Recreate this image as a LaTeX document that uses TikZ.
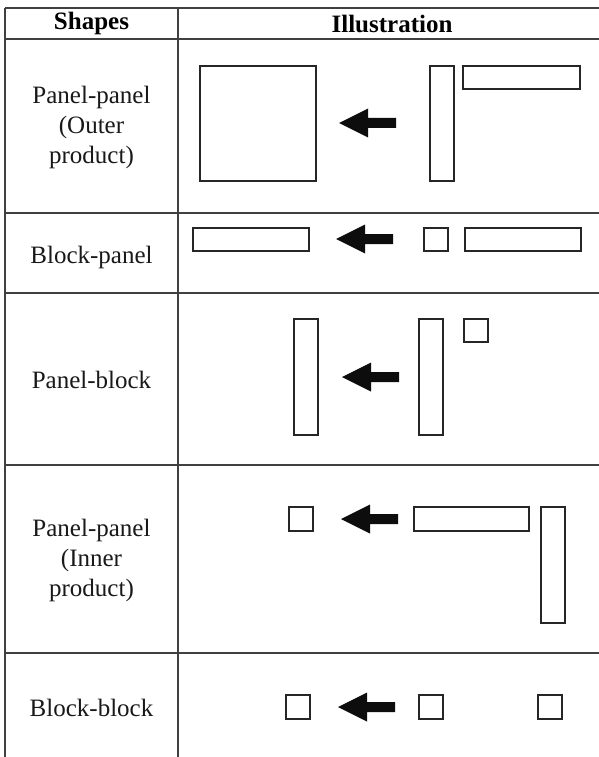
\documentclass[tikz,border=0pt]{standalone}
\usepackage{fontspec}
\setmainfont{Liberation Serif}
\begin{document}
\begin{tikzpicture}[x=1pt,y=-1pt,
  grid/.style={line width=1.4pt,draw=black!75},
  blk/.style={draw=black!85,line width=1.6pt,inner sep=0pt,outer sep=0pt,rectangle,anchor=north west},
  lbl/.style={font=\fontsize{25}{30}\selectfont,align=center,text=black!90},
  hdr/.style={font=\fontsize{25}{30}\selectfont\bfseries,text=black},
  larrow/.pic={\fill[black!95] (0,0) -- (29,-14.5) -- (29,-5) -- (57,-5) -- (57,5) -- (29,5) -- (29,14.5) -- cycle;}
]
\useasboundingbox (0,0) rectangle (599,757);
\fill[white] (0,0) rectangle (599,757);

% table rules
\draw[grid] (5,8) -- (5,757);
\draw[grid] (178,8) -- (178,757);
\foreach \yy in {8,39,213,293,465,653}
  \draw[grid] (5,\yy) -- (599,\yy);

% header
\node[hdr] (hshapes) at (91.5,23.5) {Shapes};
\node[hdr] (hillus) at (392,23.5) {Illustration};

% row labels
\node[lbl] (l1) at (91.5,127) {Panel-panel\\(Outer\\product)};
\node[lbl] (l2) at (91.5,257) {Block-panel};
\node[lbl] (l3) at (91.5,380) {Panel-block};
\node[lbl] (l4) at (91.5,560) {Panel-panel\\(Inner\\product)};
\node[lbl] (l5) at (91.5,708) {Block-block};

% row 1: outer product
\node[blk,minimum width=116pt,minimum height=115pt] (c1) at (200,66) {};
\pic at (339,123) {larrow};
\node[blk,minimum width=24pt,minimum height=115pt] (a1) at (430,66) {};
\node[blk,minimum width=117pt,minimum height=23pt] (b1) at (463,66) {};

% row 2: block-panel
\node[blk,minimum width=116pt,minimum height=23pt] (c2) at (193,228) {};
\pic at (336,239) {larrow};
\node[blk,minimum width=24pt,minimum height=23pt] (a2) at (424,228) {};
\node[blk,minimum width=116pt,minimum height=23pt] (b2) at (465,228) {};

% row 3: panel-block
\node[blk,minimum width=24pt,minimum height=116pt] (c3) at (294,319) {};
\pic at (342,377) {larrow};
\node[blk,minimum width=24pt,minimum height=116pt] (a3) at (419,319) {};
\node[blk,minimum width=24pt,minimum height=23pt] (b3) at (464,319) {};

% row 4: inner product
\node[blk,minimum width=24pt,minimum height=24pt] (c4) at (289,507) {};
\pic at (341,519) {larrow};
\node[blk,minimum width=115pt,minimum height=24pt] (a4) at (414,507) {};
\node[blk,minimum width=24pt,minimum height=116pt] (b4) at (541,507) {};

% row 5: block-block
\node[blk,minimum width=24pt,minimum height=24pt] (c5) at (286,695) {};
\pic at (338,707) {larrow};
\node[blk,minimum width=24pt,minimum height=24pt] (a5) at (419,695) {};
\node[blk,minimum width=24pt,minimum height=24pt] (b5) at (538,695) {};
\end{tikzpicture}
\end{document}
